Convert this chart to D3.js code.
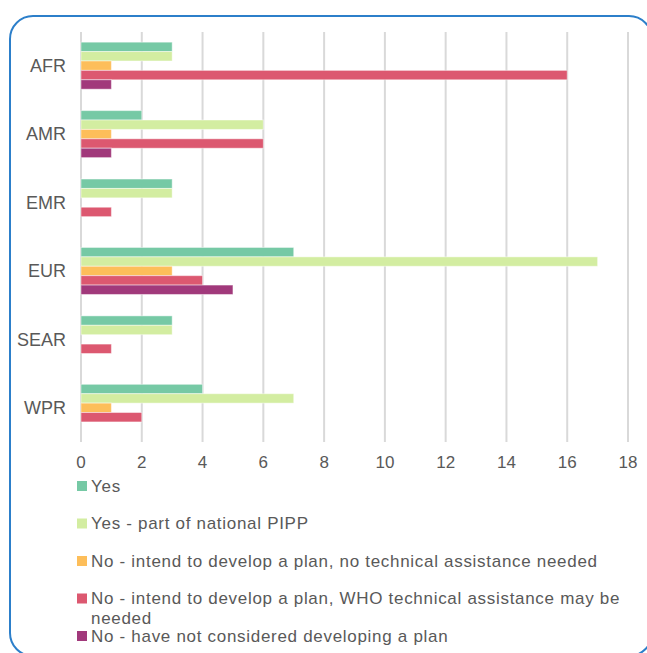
<!DOCTYPE html>
<html>
<head>
<meta charset="utf-8">
<script src="https://cdn.jsdelivr.net/npm/d3@7"></script>
<style>
  body { margin: 0; background: #fff; }
  svg { display: block; font-family: "Liberation Sans", Arial, sans-serif; }
  .grid line { stroke: #d9d9d9; stroke-width: 2; }
  .lbl { fill: #595959; }
</style>
</head>
<body>
<div id="chart"></div>
<script>
// regions and series
const regions = ["AFR", "AMR", "EMR", "EUR", "SEAR", "WPR"];
const seriesNames = [
  "Yes",
  "Yes - part of national PIPP",
  "No - intend to develop a plan, no technical assistance needed",
  "No - intend to develop a plan, WHO technical assistance may be needed",
  "No - have not considered developing a plan"
];
const seriesColors = ["#76c9a5", "#d3eda1", "#fdbe5a", "#dc5870", "#a1397b"];
const yesVals   = [3, 2, 3, 7, 3, 4];
const pippVals  = [3, 6, 3, 17, 3, 7];
const noTaVals  = [1, 1, 0, 3, 0, 1];
const whoVals   = [16, 6, 1, 4, 1, 2];
const notVals   = [1, 1, 0, 5, 0, 0];
const xTicks = [0, 2, 4, 6, 8, 10, 12, 14, 16, 18];

const W = 647, H = 653;
const allVals = [yesVals, pippVals, noTaVals, whoVals, notVals];

const svg = d3.select("#chart").append("svg")
  .attr("width", W).attr("height", H);

// frame
svg.append("rect")
  .attr("x", 10).attr("y", 16)
  .attr("width", 642).attr("height", 640)
  .attr("rx", 23).attr("ry", 23)
  .attr("fill", "none").attr("stroke", "#2c7fca").attr("stroke-width", 2);

const x = d3.scaleLinear().domain([0, 18]).range([81, 628]);
const y = d3.scaleBand().domain(regions).range([31.5, 442])
  .paddingInner(0.313).paddingOuter(0.156);
const ys = d3.scaleBand().domain(d3.range(seriesNames.length)).range([0, y.bandwidth()]);

// grid
svg.append("g").attr("class", "grid")
  .selectAll("line").data(xTicks).enter().append("line")
  .attr("x1", d => x(d)).attr("x2", d => x(d))
  .attr("y1", 32).attr("y2", 442);

// bars
const groups = svg.append("g").selectAll("g").data(regions).enter().append("g")
  .attr("transform", d => "translate(0," + y(d) + ")");
groups.selectAll("rect")
  .data((r, i) => allVals.map((s, k) => ({k: k, v: s[i]})).filter(d => d.v > 0))
  .enter().append("rect")
  .attr("x", x(0))
  .attr("y", d => ys(d.k))
  .attr("width", d => x(d.v) - x(0))
  .attr("height", ys.bandwidth())
  .attr("fill", d => seriesColors[d.k])
  .attr("stroke", "#fff").attr("stroke-opacity", 0.45).attr("stroke-width", 1);

// category labels
svg.append("g").selectAll("text").data(regions).enter().append("text")
  .attr("class", "lbl")
  .attr("x", 66)
  .attr("y", d => y(d) + y.bandwidth() / 2)
  .attr("dy", "0.35em")
  .attr("text-anchor", "end")
  .attr("font-size", 18)
  .text(d => d);

// x tick labels
svg.append("g").selectAll("text").data(xTicks).enter().append("text")
  .attr("class", "lbl")
  .attr("x", d => x(d))
  .attr("y", 462)
  .attr("dy", "0.35em")
  .attr("text-anchor", "middle")
  .attr("font-size", 17)
  .text(d => d);

// legend
const legY = d3.scalePoint().domain(d3.range(seriesNames.length)).range([486, 636]);
const leg = svg.append("g").selectAll("g").data(seriesNames).enter().append("g")
  .attr("transform", (d, i) => "translate(77," + legY(i) + ")");
leg.append("rect")
  .attr("x", 0).attr("y", -5).attr("width", 10).attr("height", 10)
  .attr("fill", (d, i) => seriesColors[i]);
leg.append("text")
  .attr("class", "lbl")
  .attr("x", 14)
  .attr("font-size", 17)
  .attr("letter-spacing", 0.7)
  .each(function(d) {
    // wrap to the legend width
    const t = d3.select(this);
    const words = d.split(" ");
    let line = [];
    let ts = t.append("tspan").attr("x", 14).attr("dy", "0.35em");
    words.forEach(w => {
      line.push(w);
      ts.text(line.join(" "));
      if (ts.node().getComputedTextLength() > 545 && line.length > 1) {
        line.pop();
        ts.text(line.join(" "));
        line = [w];
        ts = t.append("tspan").attr("x", 14).attr("dy", "1.15em").text(w);
      }
    });
  });
</script>
</body>
</html>
